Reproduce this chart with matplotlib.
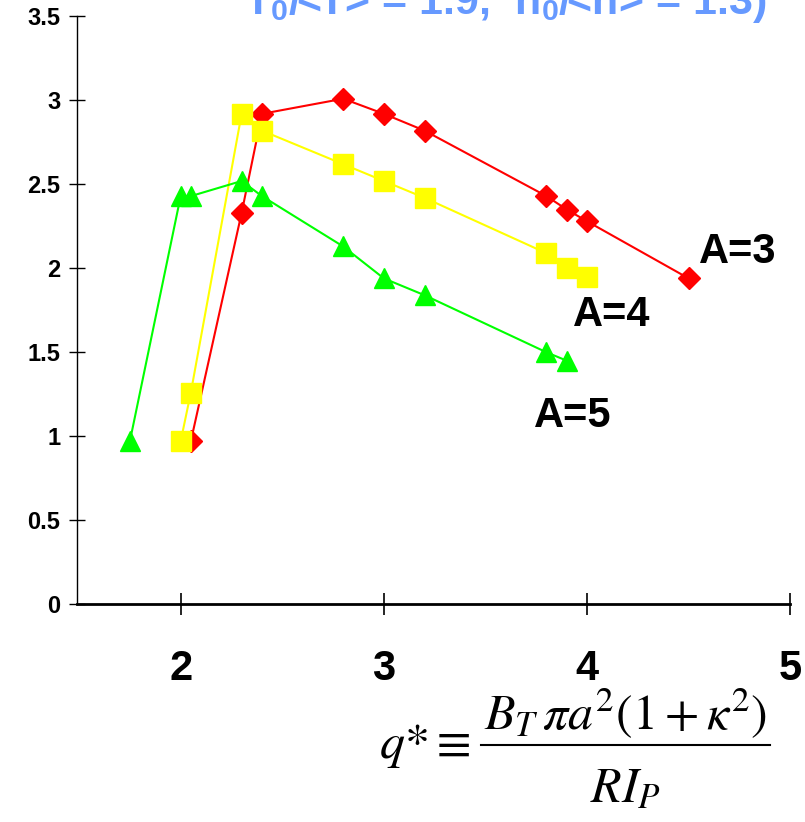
import matplotlib
matplotlib.use("Agg")
import matplotlib.pyplot as plt
from matplotlib.lines import Line2D

plt.rcParams['font.family'] = ['Liberation Sans', 'DejaVu Sans']
plt.rcParams['mathtext.fontset'] = 'custom'
plt.rcParams['mathtext.bf'] = 'Liberation Sans:bold'
plt.rcParams['mathtext.rm'] = 'Liberation Sans:bold'

# A = 3 (red diamonds)
q_a3 = [2.05, 2.3, 2.4, 2.8, 3.0, 3.2, 3.8, 3.9, 4.0, 4.5]
v_a3 = [0.97, 2.33, 2.92, 3.01, 2.92, 2.82, 2.43, 2.35, 2.28, 1.94]

# A = 4 (yellow squares)
q_a4 = [2.0, 2.05, 2.3, 2.4, 2.8, 3.0, 3.2, 3.8, 3.9, 4.0]
v_a4 = [0.97, 1.26, 2.92, 2.82, 2.62, 2.52, 2.42, 2.09, 2.0, 1.95]

# A = 5 (green triangles)
q_a5 = [1.75, 2.0, 2.05, 2.3, 2.4, 2.8, 3.0, 3.2, 3.8, 3.9]
v_a5 = [0.97, 2.43, 2.43, 2.52, 2.43, 2.13, 1.94, 1.84, 1.50, 1.45]

labels = ["A=3", "A=4", "A=5"]
label_pos = [(4.74, 2.10), (4.12, 1.72), (3.93, 1.12)]

xticks = [2, 3, 4, 5]
yticks = [0, 0.5, 1, 1.5, 2, 2.5, 3, 3.5]

fig = plt.figure(figsize=(8.05, 8.22), dpi=100)
ax = fig.add_axes([0.0957, 0.265, 0.886, 0.715])

ax.plot(q_a3, v_a3, color="#ff0000", lw=1.5, marker="D", ms=11, mec="#ff0000", zorder=3)
ax.plot(q_a4, v_a4, color="#ffff00", lw=1.5, marker="s", ms=14, mec="#ffff00", zorder=4)
ax.plot(q_a5, v_a5, color="#00ff00", lw=1.5, marker="^", ms=15, mec="#00ff00", zorder=5)

for lab, (x, y) in zip(labels, label_pos):
    ax.text(x, y, lab, fontsize=30, fontweight="bold", ha="center", va="center")

ax.set_xlim(1.49, 5)
ax.set_ylim(0, 3.5)
ax.set_xticks(xticks)
ax.set_xticklabels([str(t) for t in xticks])
ax.set_yticks(yticks)
ax.set_yticklabels(["0", "0.5", "1", "1.5", "2", "2.5", "3", "3.5"])

for s in ["top", "right"]:
    ax.spines[s].set_visible(False)
ax.spines["left"].set_linewidth(1)
ax.spines["bottom"].set_linewidth(2)

ax.tick_params(axis="x", direction="inout", length=16, width=1.2, pad=24, labelsize=30)
ax.tick_params(axis="y", direction="inout", length=12, width=1, pad=6, labelsize=17)
for t in ax.get_xticklabels() + ax.get_yticklabels():
    t.set_fontweight("bold")

fig.text(0.628, 0.996, r"T$\mathbf{_0}$/<T> = 1.9,  n$\mathbf{_0}$/<n> = 1.3)",
         color="#6699ff", fontsize=31, fontweight="bold", ha="center", va="center")

# q* definition, built as a stacked fraction
fig.text(0.527, 0.093, r"$q\mathrm{*} \equiv$", fontsize=36, math_fontfamily="stix",
         ha="center", va="center")
fig.text(0.777, 0.131, r"$B_{T}\,\pi a^{2}(1+\kappa^{2})$", fontsize=36,
         math_fontfamily="stix", ha="center", va="center")
fig.text(0.777, 0.040, r"$RI_{P}$", fontsize=36, math_fontfamily="stix",
         ha="center", va="center")
fig.add_artist(Line2D([0.597, 0.957], [0.094, 0.094], color="black", lw=1.5,
                      transform=fig.transFigure))

fig.savefig("out.png", dpi=100)
